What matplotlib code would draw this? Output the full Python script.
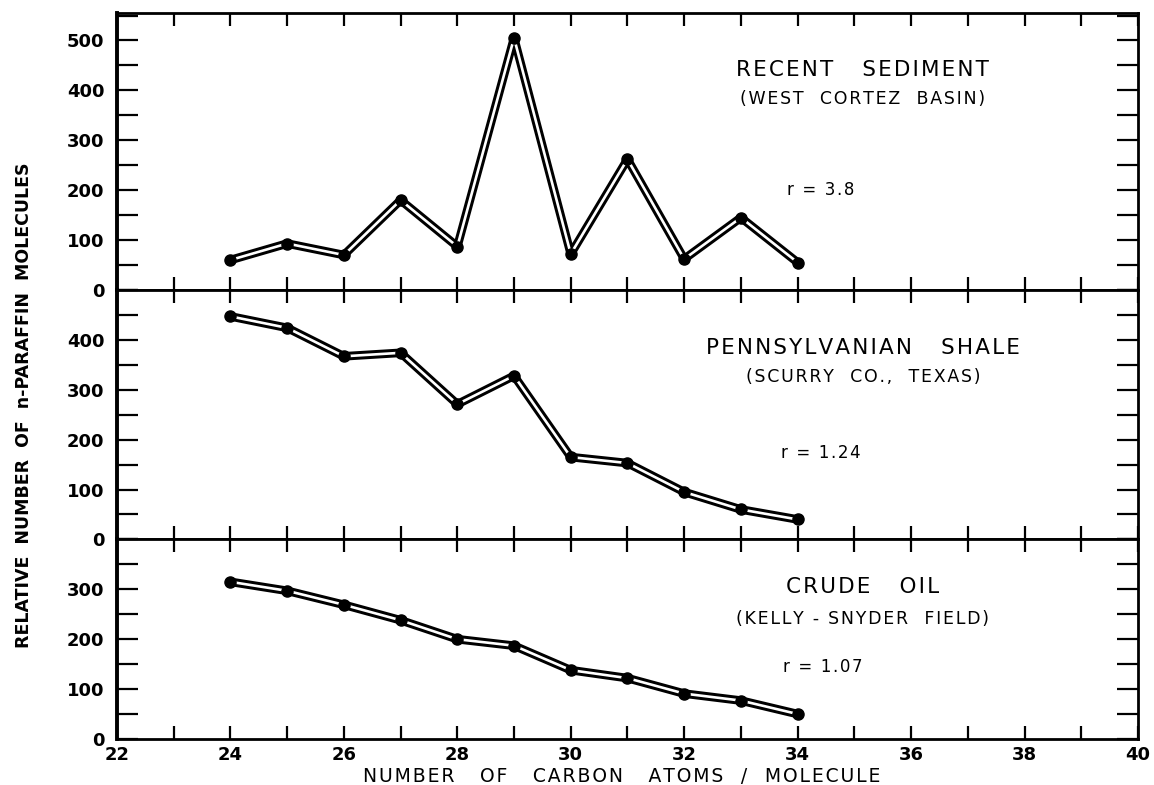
import matplotlib
matplotlib.use("Agg")
import matplotlib.pyplot as plt

# n-paraffin distribution, carbon numbers C24 - C34
carbon = [24, 25, 26, 27, 28, 29, 30, 31, 32, 33, 34]
recent_sediment = [60, 93, 70, 180, 87, 505, 72, 262, 62, 145, 55]
penn_shale = [447, 424, 367, 374, 271, 328, 165, 153, 95, 60, 40]
crude_oil = [315, 297, 269, 238, 200, 187, 138, 122, 91, 77, 50]

titles = ["RECENT   SEDIMENT", "PENNSYLVANIAN   SHALE", "CRUDE   OIL"]
subtitles = ["(WEST  CORTEZ  BASIN)", "(SCURRY  CO.,  TEXAS)", "(KELLY - SNYDER  FIELD)"]
ratios = ["r = 3.8", "r = 1.24", "r = 1.07"]
ymax = [555, 500, 400]
ylabels_max = [500, 400, 300]

# text positions in data units for each panel
title_y = [440, 384, 304]
sub_y = [382, 326, 241]
ratio_xy = [(34.4, 200), (34.4, 173), (34.45, 145)]

series = [recent_sediment, penn_shale, crude_oil]


def tracked(s):
    # open up the letter spacing of stencil-style lettering
    return "\u200a".join(s)


fig = plt.figure(figsize=(11.54, 7.85), dpi=100)
gs = fig.add_gridspec(3, 1, height_ratios=ymax, hspace=0,
                      left=0.1014, right=0.9861, top=0.9834, bottom=0.0586)

axes = []
for i in range(3):
    ax = fig.add_subplot(gs[i])
    axes.append(ax)
    y = series[i]

    # double-ruled line: thick black stroke with a thin white core
    ax.plot(carbon, y, color="black", lw=6.2, solid_capstyle="butt", zorder=3)
    ax.plot(carbon, y, color="white", lw=1.9, solid_capstyle="butt", zorder=4)
    ax.plot(carbon, y, "o", color="black", ms=8, zorder=5)

    ax.set_xlim(22, 40)
    ax.set_ylim(0, ymax[i])
    ax.set_xticks(list(range(22, 41)))
    ax.set_yticks(list(range(0, ymax[i] + 1, 50)))
    ax.set_yticklabels([str(v) if v % 100 == 0 and v <= ylabels_max[i] else ""
                        for v in range(0, ymax[i] + 1, 50)],
                       fontsize=13, fontweight="bold")
    ax.tick_params(axis="y", direction="in", length=15, width=1.6,
                   left=True, right=True, pad=9)
    ax.tick_params(axis="x", direction="in", length=9.5, width=1.6,
                   top=True, bottom=True)
    if i < 2:
        ax.set_xticklabels([])
    else:
        ax.set_xticklabels([str(v) if v % 2 == 0 else "" for v in range(22, 41)],
                           fontsize=13, fontweight="bold")
        ax.tick_params(axis="x", pad=5)

    for side in ["top", "bottom", "right"]:
        ax.spines[side].set_linewidth(2.0)
    ax.spines["left"].set_linewidth(2.8)

    ax.text(35.15, title_y[i], tracked(titles[i]), ha="center", va="center",
            fontsize=15.5)
    ax.text(35.15, sub_y[i], tracked(subtitles[i]), ha="center", va="center",
            fontsize=12.5)
    ax.text(ratio_xy[i][0], ratio_xy[i][1], tracked(ratios[i]), ha="center",
            va="center", fontsize=12)

fig.text(0.539, 0.011, tracked("NUMBER   OF   CARBON   ATOMS  /  MOLECULE"),
         ha="center", va="center", fontsize=13.5)
fig.text(0.021, 0.484, "RELATIVE  NUMBER  OF  n-PARAFFIN  MOLECULES", rotation=90,
         ha="center", va="center", fontsize=12.5, fontweight="bold",
         family=["Liberation Sans Narrow", "DejaVu Sans"])

fig.savefig("out.png", dpi=100)
